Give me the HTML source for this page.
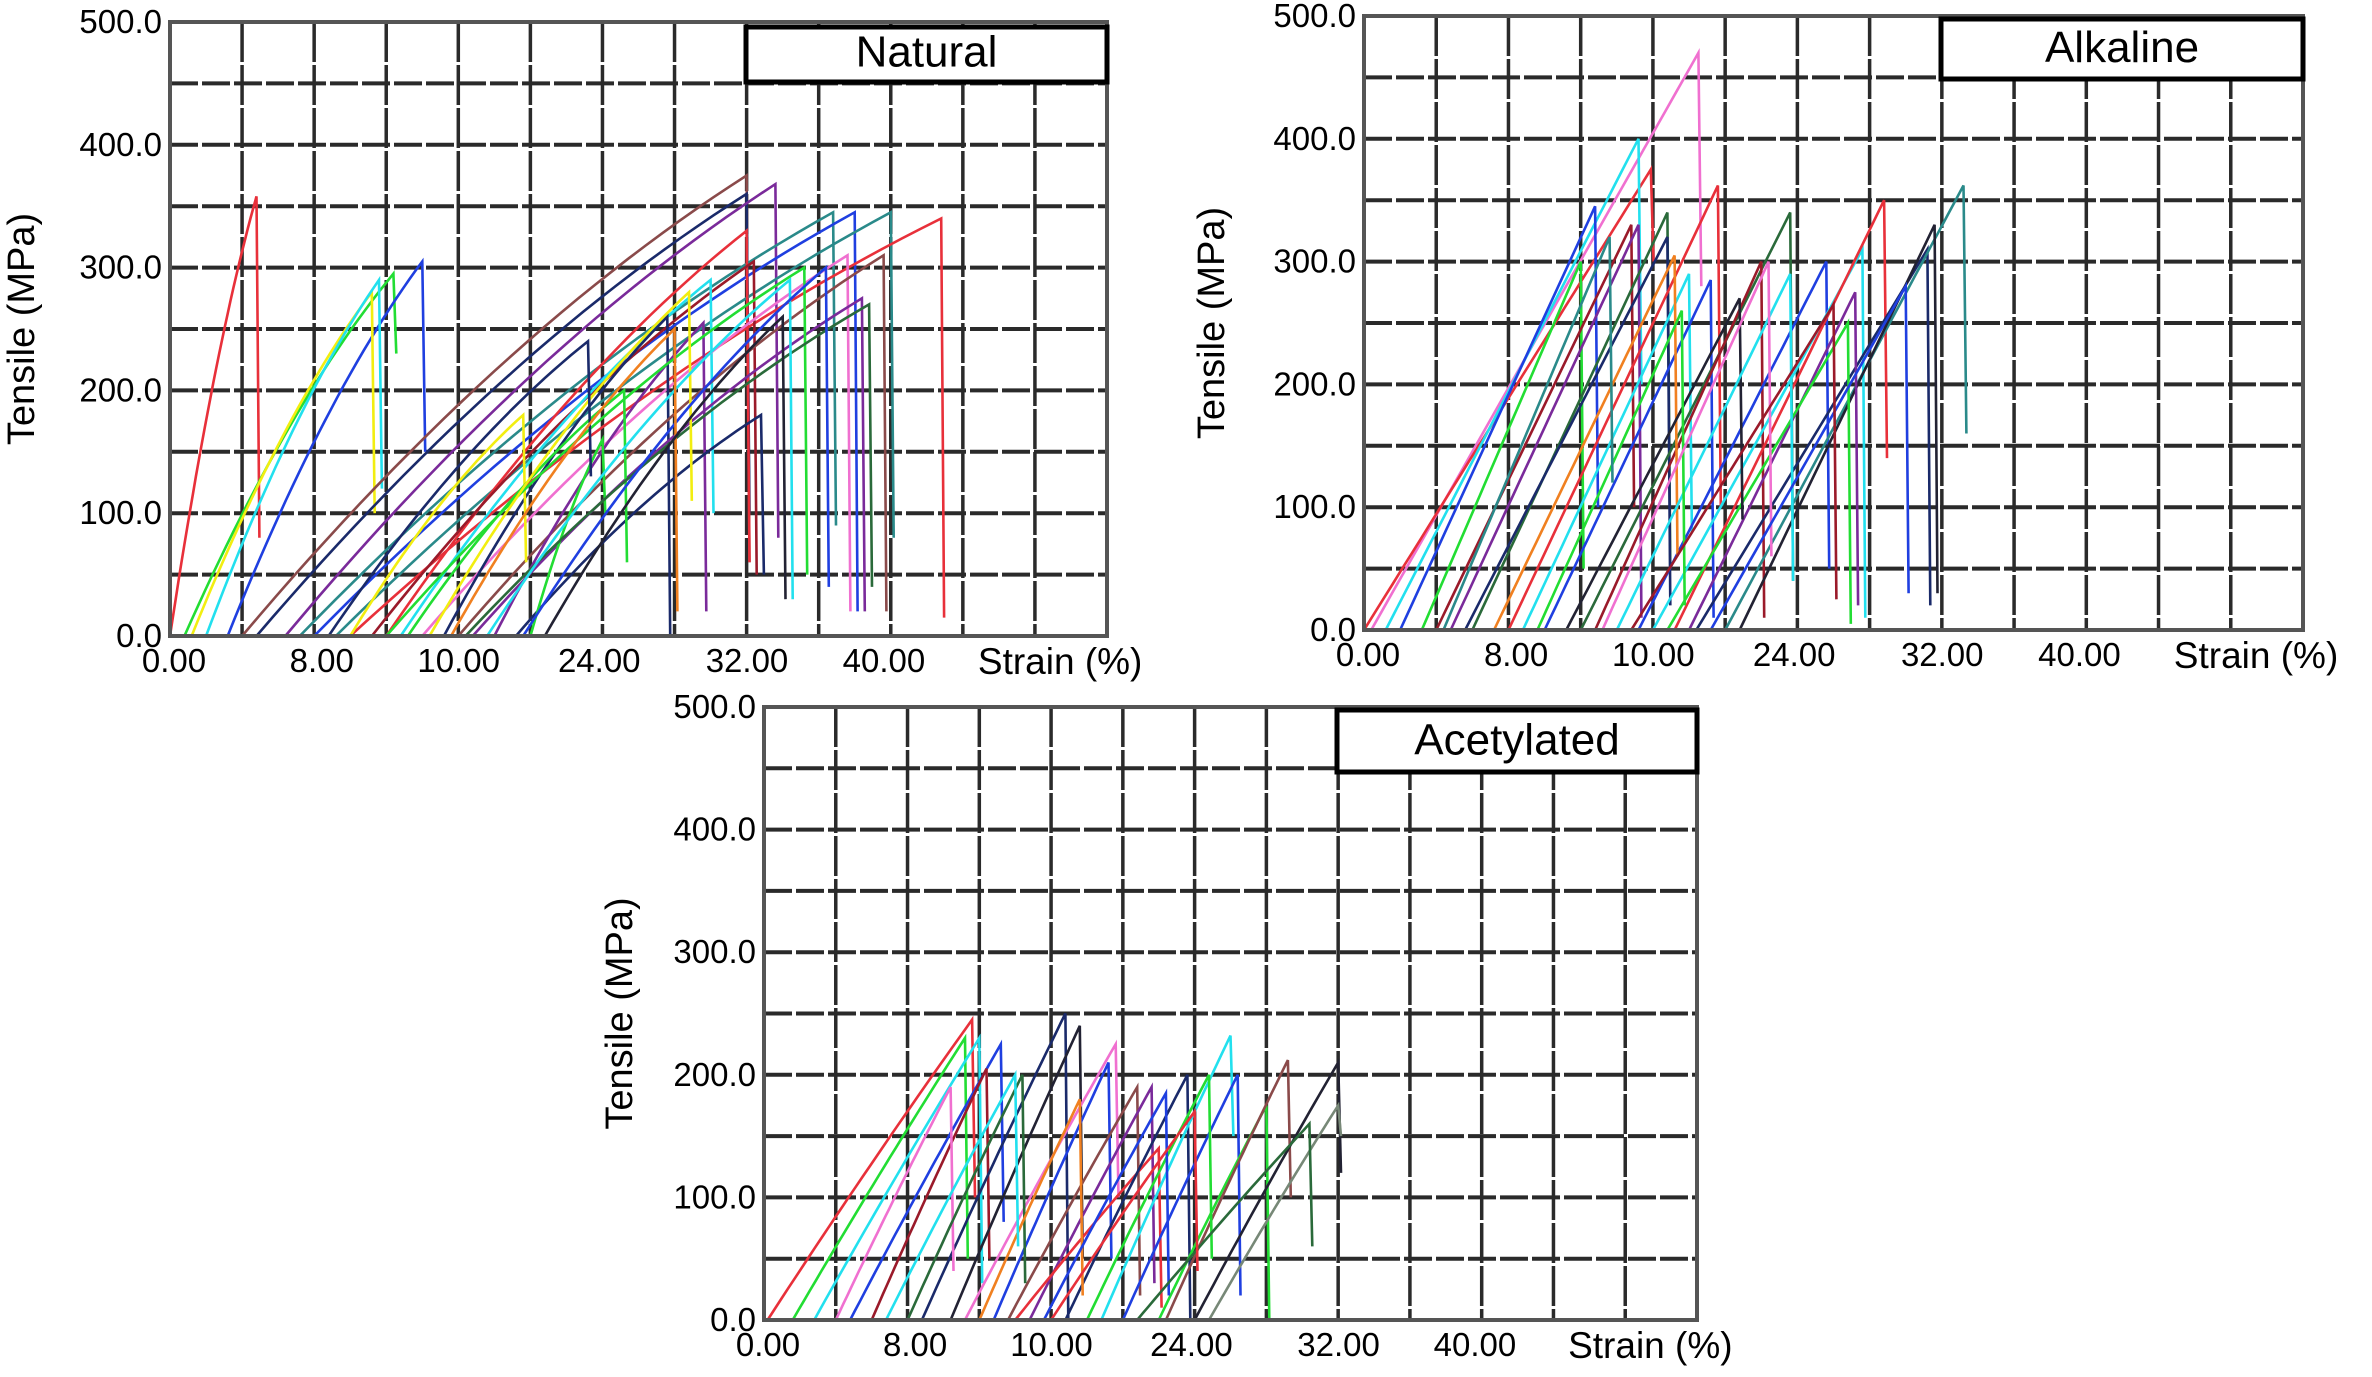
<!DOCTYPE html>
<html><head><meta charset="utf-8">
<style>
html,body{margin:0;padding:0;background:#fff;}
svg{display:block;}
text{font-family:"Liberation Sans Narrow","Liberation Sans",sans-serif;fill:#000;}
.ttl{font-family:"Liberation Sans",sans-serif;}
</style></head>
<body>
<svg id="chart" width="2372" height="1377" viewBox="0 0 2372 1377" xmlns="http://www.w3.org/2000/svg"></svg>
<script>
// Shared axis data
const yTicks = [0, 100, 200, 300, 400, 500];
const yTickLabels = ["0.0", "100.0", "200.0", "300.0", "400.0", "500.0"];
const xTickUnits = [0, 2.05, 3.95, 5.9, 7.95, 9.85];
const xTickLabels = ["0.00", "8.00", "10.00", "24.00", "32.00", "40.00"];
const colorNames = {r:"#e8303a",g:"#22dd33",b:"#1f3fe0",y:"#f2ee10",c:"#22e0ee",n:"#1a2a6a",br:"#8a4a4a",p:"#7a2a9a",t:"#2a8a8a",m:"#f070d0",dr:"#9a1a2a",dg:"#2a6a3a",k:"#222233",gr:"#778877",o:"#f08020"};

// Natural: start strain (grid units), peak strain, peak stress, residual stress, colour
const natStart = [0,0.2,0.8,0.3,0.5,1.0,1.2,1.6,1.8,2.0,2.3,2.5,3.0,2.8,3.2,3.5,3.8,4.0,4.2,4.5,4.8,5.0,2.5,3.3,3.0,4.1,3.6,4.4,4.9,2.2,3.9,5.2];
const natPeakX = [1.2,3.1,3.5,2.8,2.9,8.0,8.0,8.4,9.2,9.5,10.0,10.7,8.0,8.1,7.5,9.4,6.9,9.9,9.6,7.4,8.2,6.0,4.9,6.3,8.8,9.7,7.2,8.6,9.1,5.8,7.0,8.5];
const natPeakY = [358,295,305,280,290,375,360,368,345,345,345,340,330,305,290,310,260,310,275,255,180,160,180,200,300,270,280,290,300,240,250,260];
const natEndY = [80,230,150,100,120,60,100,80,90,20,80,15,60,50,100,20,0,20,20,20,50,100,60,60,50,40,110,30,40,130,20,30];
const natColor = ["r","g","b","y","c","br","n","p","t","b","t","r","r","dr","c","m","n","br","p","p","n","g","y","g","g","dg","y","c","b","n","o","k"];

// Alkaline
const alkStart = [0.1,0,0.3,0.5,0.8,1.0,1.2,1.5,1.4,2.0,2.2,2.5,3.0,3.2,3.8,4.0,4.3,4.6,5.0,5.2,4.5,4.2,1.8,2.8,3.5,2.4,3.3,4.8,1.1,3.7];
const alkPeakX = [4.63,3.97,3.8,3.2,3.0,3.7,3.8,4.2,4.2,4.9,4.5,4.8,5.9,5.5,6.4,6.9,7.2,7.8,8.3,7.9,6.8,6.7,4.3,5.2,5.9,4.4,5.6,7.5,3.4,6.5];
const alkPeakY = [470,375,400,345,300,330,330,340,320,362,290,285,340,300,300,310,350,310,362,330,275,250,305,270,290,260,300,280,320,265];
const alkEndY = [280,300,200,100,50,100,10,50,20,100,80,10,40,10,50,10,140,20,160,30,20,5,60,90,40,20,60,30,120,25];
const alkColor = ["m","r","c","b","g","dr","p","dg","n","r","c","b","dg","dr","b","c","r","n","t","k","p","g","o","k","c","g","m","b","t","dr"];

// Acetylated
const aceStart = [0.05,0.4,0.7,1.2,1.5,2.2,2.6,2.8,3.2,3.4,3.7,3.5,4.2,4.7,5.0,5.5,5.6,6.0,6.2,4.5,1.0,2.0,3.0,1.7,3.9,5.2,4.0];
const acePeakX = [2.9,2.8,3.0,3.3,3.1,4.2,4.4,4.9,4.8,5.2,5.4,5.5,5.9,6.5,6.6,7.0,7.3,8.0,8.0,6.2,2.6,3.6,4.4,3.5,5.6,7.6,6.0];
const acePeakY = [245,230,230,225,205,250,240,225,210,190,190,140,200,232,200,175,212,210,175,200,190,200,180,200,185,160,170];
const aceEndY = [100,50,30,80,50,0,50,100,50,20,30,10,0,150,20,0,100,120,150,50,40,30,20,60,20,60,40];
const aceColor = ["r","g","c","b","dr","n","k","m","b","br","p","r","n","c","b","g","br","k","gr","g","m","dg","o","c","b","dg","r"];

const NS = "http://www.w3.org/2000/svg";
const svg = document.getElementById("chart");
function mk(tag, attrs, parent){const e=document.createElementNS(NS,tag);for(const k in attrs)e.setAttribute(k,attrs[k]);(parent||svg).appendChild(e);return e;}

function panel(cfg){
  const g = mk("g",{});
  
  
  const L=cfg.l,R=cfg.r,T=cfg.t,B=cfg.b;
  const xs = u => L + u*(R-L)/13;
  const ys = v => B - v*(B-T)/500;
  mk("rect",{x:L,y:T,width:R-L,height:B-T,fill:"#fff"},g);
  for(let i=1;i<13;i++){
    const ln=mk("line",{x1:xs(i),x2:xs(i),y1:T,y2:B,stroke:"#2a2a2a","stroke-width":3.5,"stroke-dasharray":"40 3"},g);
    
    
  }
  for(let j=1;j<10;j++){
    const ln=mk("line",{x1:L,x2:R,y1:ys(j*50),y2:ys(j*50),stroke:"#2a2a2a","stroke-width":4,"stroke-dasharray":"28 4"},g);
    
    
  }
  const n = cfg.start.length;
  for(let i=0;i<n;i++){
    const x0=cfg.start[i],x1=cfg.peakX[i],p=cfg.peakY[i];
    let d="M"+xs(x0)+","+ys(0);
    const k=cfg.k;
    for(let s=1;s<=30;s++){const t=s/30;const v=p*(t*(1+k)-k*t*t);d+=" L"+xs(x0+(x1-x0)*t).toFixed(1)+","+ys(v).toFixed(1);}
    d+=" L"+xs(x1+0.04).toFixed(1)+","+ys(cfg.endY[i]).toFixed(1);
    const path=mk("path",{d:d,fill:"none",stroke:colorNames[cfg.color[i]],"stroke-width":2.6},g);
    
    
  }
  mk("rect",{x:L,y:T,width:R-L,height:B-T,fill:"none",stroke:"#555","stroke-width":4},g);
  const lb=mk("rect",{x:cfg.lg[0],y:cfg.lg[1],width:R-cfg.lg[0],height:cfg.lg[2],fill:"#fff",stroke:"#000","stroke-width":5},g);
  
  
  const lt=mk("text",{x:(cfg.lg[0]+R)/2,y:cfg.lg[1]+cfg.lg[2]*0.72,"text-anchor":"middle","font-size":44,class:"ttl"},g);
  lt.textContent=cfg.title;
  
  
  for(let i=0;i<yTicks.length;i++){
    const t=mk("text",{x:L-8,y:ys(yTicks[i])+11,"text-anchor":"end","font-size":33},g);
    t.textContent=yTickLabels[i];
    
    
  }
  for(let i=0;i<xTickUnits.length;i++){
    const t=mk("text",{x:xs(xTickUnits[i])+4,y:B+36,"text-anchor":"middle","font-size":33},g);
    t.textContent=xTickLabels[i];
    
    
  }
  const xt=mk("text",{x:xs(12.35),y:B+38,"text-anchor":"middle","font-size":37},g);
  xt.textContent="Strain (%)";
  
  
  const yt=mk("text",{x:0,y:0,"text-anchor":"middle","font-size":38,class:"ttl",transform:"translate("+cfg.yx+","+((T+B)/2)+") rotate(-90)"},g);
  yt.textContent="Tensile (MPa)";
  
  
}

panel({name:"natural",title:"Natural",l:170,r:1107,t:22,b:636,lg:[746,27,55],yx:34,k:0.3,
  start:natStart,peakX:natPeakX,peakY:natPeakY,endY:natEndY,color:natColor});
panel({name:"alkaline",title:"Alkaline",l:1364,r:2303,t:16,b:630,lg:[1941,19,60],yx:1224,k:0,
  start:alkStart,peakX:alkPeakX,peakY:alkPeakY,endY:alkEndY,color:alkColor});
panel({name:"acetylated",title:"Acetylated",l:764,r:1697,t:707,b:1320,lg:[1337,710,62],yx:632,k:0.05,
  start:aceStart,peakX:acePeakX,peakY:acePeakY,endY:aceEndY,color:aceColor});
</script>
</body></html>
